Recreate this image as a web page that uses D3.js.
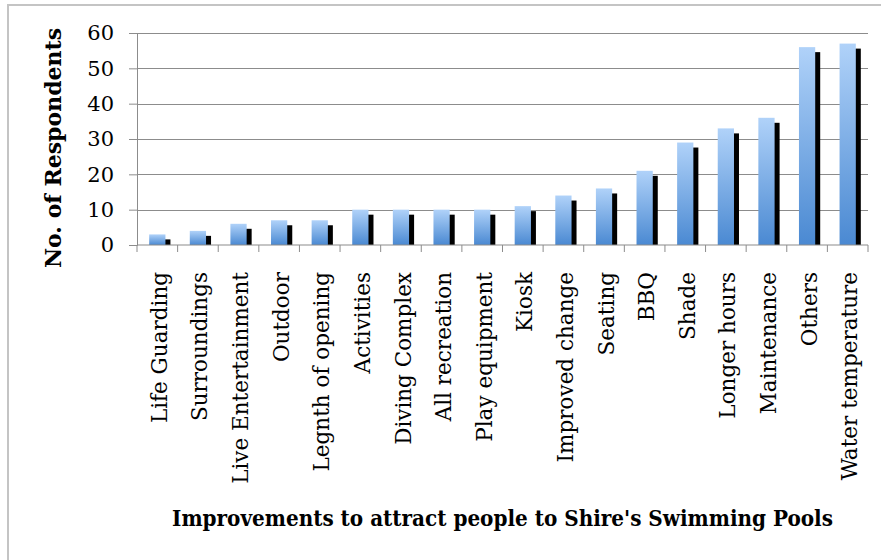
<!DOCTYPE html>
<html>
<head>
<meta charset="utf-8">
<script src="https://cdn.jsdelivr.net/npm/d3@7"></script>
<style>
  html, body { margin: 0; padding: 0; background: #fff; }
  svg { display: block; }
</style>
</head>
<body>
<svg id="chart" width="881" height="560"></svg>
<script>
const categories = ["Life Guarding", "Surroundings", "Live Entertainment", "Outdoor", "Legnth of opening",
  "Activities", "Diving Complex", "All recreation", "Play equipment", "Kiosk", "Improved change",
  "Seating", "BBQ", "Shade", "Longer hours", "Maintenance", "Others", "Water temperature"];
const respondents = [3, 4, 6, 7, 7, 10, 10, 10, 10, 11, 14, 16, 21, 29, 33, 36, 56, 57];
const yTicks = [0, 10, 20, 30, 40, 50, 60];
const yTitle = "No. of Respondents";
const xTitle = "Improvements to attract people to Shire's Swimming Pools";

const svg = d3.select("#chart");
const pL = 137, pR = 868, pT = 33, pB = 245;
const serif = "'DejaVu Serif', serif";

// outer frame (top and left edges visible)
svg.append("path").attr("d", "M8,881 V5 H881").attr("fill", "none")
  .attr("stroke", "#c4c4c4").attr("stroke-width", 2);

const x = d3.scaleBand().domain(categories).range([pL, pR]).padding(0);
const y = d3.scaleLinear().domain([0, 60]).range([pB, pT]);

const defs = svg.append("defs");
const grad = defs.append("linearGradient").attr("id", "barGrad")
  .attr("x1", 0).attr("y1", 0).attr("x2", 0).attr("y2", 1);
grad.append("stop").attr("offset", "0%").attr("stop-color", "#b0d2f9");
grad.append("stop").attr("offset", "100%").attr("stop-color", "#4a89d2");

// gridlines + y axis
const yAxis = d3.axisLeft(y).tickValues(yTicks).tickSize(8).tickPadding(15).tickFormat(d3.format("d"));
const gy = svg.append("g").attr("transform", `translate(${pL},0)`).call(yAxis);
gy.select(".domain").attr("stroke", "#8c8c8c");
gy.selectAll(".tick line").attr("stroke", "#8c8c8c");
gy.selectAll(".tick text").attr("font-family", serif).attr("font-size", 21).attr("fill", "#000");
svg.append("g").selectAll("line").data(yTicks.filter(d => d > 0)).join("line")
  .attr("x1", pL).attr("x2", pR)
  .attr("y1", d => Math.round(y(d)) + 0.5).attr("y2", d => Math.round(y(d)) + 0.5)
  .attr("stroke", "#8c8c8c").attr("stroke-width", 1.2);

// bars: shadow then gradient bar
const bw = x.bandwidth() * 0.4;
const bx = d => x(d) + (x.bandwidth() - bw) / 2;
const bars = svg.append("g");
bars.selectAll("rect.shadow").data(categories).join("rect").attr("class", "shadow")
  .attr("x", d => bx(d) + 5)
  .attr("y", (d, i) => y(respondents[i]) + 5)
  .attr("width", bw)
  .attr("height", (d, i) => Math.max(0, pB - y(respondents[i]) - 5))
  .attr("fill", "#000");
bars.selectAll("rect.bar").data(categories).join("rect").attr("class", "bar")
  .attr("x", d => bx(d))
  .attr("y", (d, i) => y(respondents[i]))
  .attr("width", bw)
  .attr("height", (d, i) => pB - y(respondents[i]))
  .attr("fill", "url(#barGrad)");

// x axis with boundary ticks
const gx = svg.append("g").attr("transform", `translate(0,${pB})`);
gx.append("line").attr("x1", pL).attr("x2", pR).attr("stroke", "#8c8c8c").attr("stroke-width", 1.2);
const bounds = categories.map(d => x(d)).concat([pR]);
gx.selectAll("line.tk").data(bounds).join("line").attr("class", "tk")
  .attr("x1", d => d).attr("x2", d => d).attr("y1", 0).attr("y2", 7)
  .attr("stroke", "#8c8c8c");
gx.selectAll("text").data(categories).join("text")
  .attr("transform", d => `translate(${x(d) + x.bandwidth() / 2 + 2},${272 - pB}) rotate(-90)`)
  .attr("dy", "0.35em")
  .attr("text-anchor", "end")
  .attr("font-family", serif).attr("font-size", 21.5).attr("fill", "#000")
  .text(d => d);

// axis titles
svg.append("text")
  .attr("transform", `translate(53,148) rotate(-90)`)
  .attr("dy", "0.35em").attr("text-anchor", "middle")
  .attr("font-family", serif).attr("font-weight", "bold").attr("font-size", 22)
  .attr("fill", "#000").text(yTitle);

const t = svg.append("text")
  .attr("x", (172 + 833) / 2).attr("y", 526).attr("text-anchor", "middle")
  .attr("font-family", "'DejaVu Serif Condensed', 'DejaVu Serif', serif").attr("font-weight", "bold")
  .attr("font-size", 22).attr("fill", "#000").text(xTitle);
const w = t.node().getComputedTextLength();
t.attr("font-size", 22 * 661 / w);
</script>
</body>
</html>
